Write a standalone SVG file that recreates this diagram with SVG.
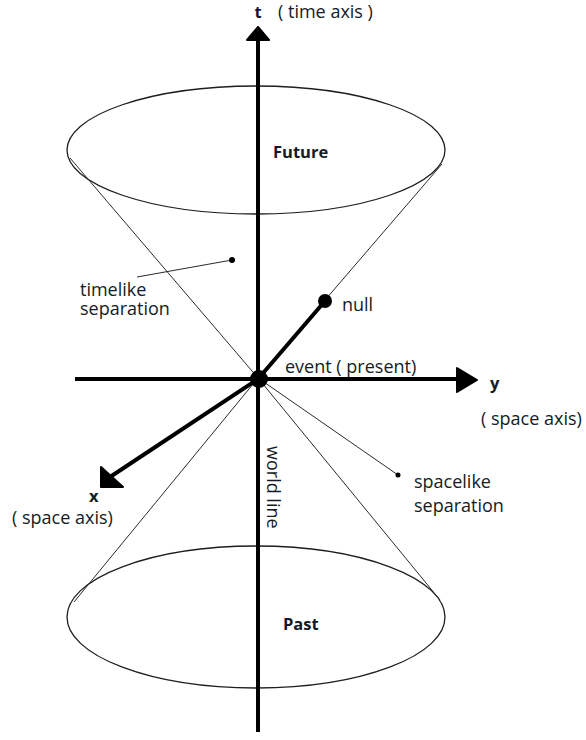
<svg xmlns="http://www.w3.org/2000/svg" width="586" height="740" viewBox="0 0 586 740">
<style>
.thin{stroke:#2a2a2a;stroke-width:1;fill:none}
.ell{stroke:#1e1e1e;stroke-width:1.3;fill:none}
.thick{stroke:#000;stroke-width:4;fill:none}
.head{fill:#000;stroke:#000;stroke-width:2;stroke-linejoin:round}
.lbl{font-family:"Open Sans","Noto Sans",sans-serif;font-size:18px;fill:#141b26}
.b{font-weight:bold;font-size:16.5px}
</style>
<rect width="586" height="740" fill="#fff"/>
<g id="cones">
<ellipse id="future-cone" class="ell" cx="256" cy="150" rx="189" ry="64"/>
<ellipse id="past-cone" class="ell" cx="256" cy="617" rx="189" ry="71"/>
</g>
<g id="connectors">
<line class="thin" x1="70" y1="158" x2="258" y2="378"/>
<line class="thin" x1="258" y1="378" x2="440" y2="600"/>
<line class="thin" x1="442" y1="164" x2="258" y2="378"/>
<line class="thin" x1="258" y1="378" x2="74" y2="602"/>
<line class="thin" x1="137" y1="277" x2="232" y2="260"/>
<circle cx="232" cy="260" r="3" fill="#000"/>
<line class="thin" x1="258" y1="378" x2="398" y2="475"/>
<circle cx="398" cy="475" r="2.5" fill="#000"/>
<line class="thick" x1="258" y1="40" x2="258" y2="732"/>
<polygon class="head" points="258,27 269,40 247,40"/>
<line class="thick" x1="75" y1="379" x2="460" y2="379"/>
<polygon class="head" points="457,368 477,380 457,392"/>
<line class="thick" x1="258" y1="379" x2="110" y2="477"/>
<polygon class="head" points="101,467 101,487 123,487"/>
<line class="thick" x1="258" y1="379" x2="325" y2="301"/>
</g>
<g id="null-point"><circle cx="325" cy="301" r="7" fill="#000"/></g>
<g id="event"><circle cx="259" cy="379" r="9" fill="#000"/></g>
<g id="labels">
<text class="lbl b" x="258" y="18" text-anchor="middle">t</text>
<text class="lbl" x="278" y="18">( time axis )</text>
<text class="lbl b" x="273" y="158">Future</text>
<text class="lbl" x="80" y="296">timelike</text>
<text class="lbl" x="80" y="315">separation</text>
<text class="lbl" x="342" y="311">null</text>
<text class="lbl" x="285" y="373">event ( present)</text>
<text class="lbl b" x="490" y="389">y</text>
<text class="lbl" x="481" y="425">( space axis)</text>
<text class="lbl b" x="89" y="502">x</text>
<text class="lbl" x="12" y="524">( space axis)</text>
<text class="lbl" transform="translate(267,446) rotate(90)">world line</text>
<text class="lbl" x="414" y="488">spacelike</text>
<text class="lbl" x="414" y="512">separation</text>
<text class="lbl b" x="283" y="630">Past</text>
</g>
</svg>
